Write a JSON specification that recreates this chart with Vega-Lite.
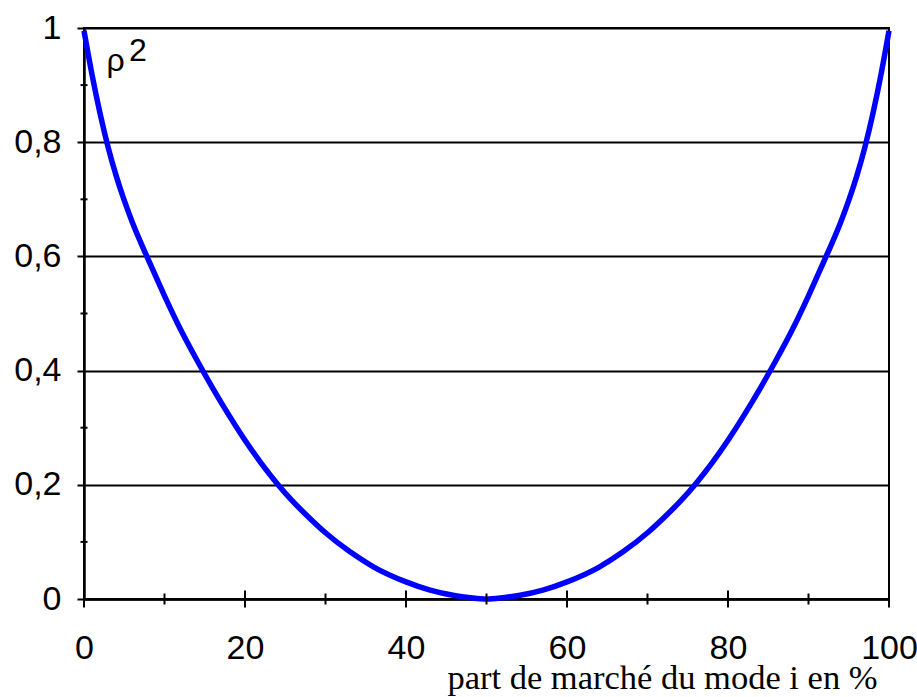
{
  "$schema": "https://vega.github.io/schema/vega-lite/v6.json",
  "width": 805,
  "height": 571,
  "autosize": "none",
  "padding": {"left": 84, "top": 28, "right": 28, "bottom": 98},
  "background": "white",
  "config": {
    "view": {"stroke": "black", "strokeWidth": 2},
    "axis": {"labelFlush": false, "labelOverlap": false, "labelColor": "black", "labelFont": "Liberation Sans", "labelFontSize": 34, "domainColor": "black", "domainWidth": 2.5}
  },
  "datasets": {
    "curve": [
      {"p": 0, "r": 0.995}, {"p": 1, "r": 0.918}, {"p": 2, "r": 0.850}, {"p": 3, "r": 0.791},
      {"p": 4, "r": 0.741}, {"p": 5, "r": 0.698}, {"p": 6, "r": 0.660}, {"p": 7, "r": 0.626},
      {"p": 8, "r": 0.594}, {"p": 10, "r": 0.531}, {"p": 12, "r": 0.472}, {"p": 14, "r": 0.419},
      {"p": 16, "r": 0.369}, {"p": 18, "r": 0.322}, {"p": 20, "r": 0.278}, {"p": 22, "r": 0.238},
      {"p": 24, "r": 0.202}, {"p": 26, "r": 0.170}, {"p": 28, "r": 0.142}, {"p": 30, "r": 0.116},
      {"p": 33, "r": 0.083}, {"p": 36, "r": 0.056}, {"p": 40, "r": 0.030}, {"p": 43, "r": 0.0155},
      {"p": 46, "r": 0.006}, {"p": 48, "r": 0.0022}, {"p": 50, "r": 0},
      {"p": 52, "r": 0.0022}, {"p": 54, "r": 0.006}, {"p": 57, "r": 0.0155}, {"p": 60, "r": 0.030},
      {"p": 64, "r": 0.056}, {"p": 67, "r": 0.083}, {"p": 70, "r": 0.116}, {"p": 72, "r": 0.142},
      {"p": 74, "r": 0.170}, {"p": 76, "r": 0.202}, {"p": 78, "r": 0.238}, {"p": 80, "r": 0.278},
      {"p": 82, "r": 0.322}, {"p": 84, "r": 0.369}, {"p": 86, "r": 0.419}, {"p": 88, "r": 0.472},
      {"p": 90, "r": 0.531}, {"p": 92, "r": 0.594}, {"p": 93, "r": 0.626}, {"p": 94, "r": 0.660},
      {"p": 95, "r": 0.698}, {"p": 96, "r": 0.741}, {"p": 97, "r": 0.791}, {"p": 98, "r": 0.850},
      {"p": 99, "r": 0.918}, {"p": 100, "r": 0.995}
    ],
    "yminor": [{"p": 0, "r": 0.1}, {"p": 0, "r": 0.3}, {"p": 0, "r": 0.5}, {"p": 0, "r": 0.7}, {"p": 0, "r": 0.9}],
    "xmajor": [{"p": 0, "r": 0}, {"p": 20, "r": 0}, {"p": 40, "r": 0}, {"p": 60, "r": 0}, {"p": 80, "r": 0}, {"p": 100, "r": 0}],
    "xminor": [{"p": 10, "r": 0}, {"p": 30, "r": 0}, {"p": 50, "r": 0}, {"p": 70, "r": 0}, {"p": 90, "r": 0}],
    "labels": [{"p": 2.8, "r": 0.925, "t": "ρ"}],
    "sup": [{"p": 5.6, "r": 0.942, "t": "2"}]
  },
  "encoding": {
    "x": {"field": "p", "type": "quantitative", "scale": {"domain": [0, 100], "nice": false, "zero": false},
      "axis": {"values": [0, 20, 40, 60, 80, 100], "ticks": false, "grid": false, "labelPadding": 32,
        "title": "part de marché du mode i en %", "titleFont": "Liberation Serif", "titleFontSize": 34.5, "titleFontWeight": "normal",
        "titleColor": "black", "titleAlign": "right", "titleAnchor": "end", "titleBaseline": "alphabetic", "titleX": 793, "titleY": 89}},
    "y": {"field": "r", "type": "quantitative", "scale": {"domain": [0, 1], "nice": false},
      "axis": {"values": [0, 0.2, 0.4, 0.6, 0.8, 1], "tickSize": 7, "tickWidth": 2, "tickColor": "black",
        "grid": true, "gridColor": "black", "gridWidth": 2, "gridOpacity": 1, "labelPadding": 16,
        "labelExpr": "replace(format(datum.value, '~g'), '.', ',')", "title": null}}
  },
  "layer": [
    {"data": {"name": "curve"}, "mark": {"type": "line", "color": "#0000FF", "strokeWidth": 5.5, "interpolate": "monotone", "clip": false}},
    {"data": {"name": "yminor"}, "mark": {"type": "tick", "orient": "horizontal", "size": 7, "thickness": 2, "color": "black", "opacity": 1}},
    {"data": {"name": "xmajor"}, "mark": {"type": "tick", "orient": "vertical", "size": 17, "thickness": 2, "color": "black", "opacity": 1}},
    {"data": {"name": "xminor"}, "mark": {"type": "tick", "orient": "vertical", "size": 11, "thickness": 2, "color": "black", "opacity": 1}},
    {"data": {"name": "labels"}, "mark": {"type": "text", "align": "left", "baseline": "alphabetic", "font": "Liberation Sans", "fontSize": 32, "color": "black"},
      "encoding": {"text": {"field": "t"}}},
    {"data": {"name": "sup"}, "mark": {"type": "text", "align": "left", "baseline": "alphabetic", "font": "Liberation Sans", "fontSize": 32, "color": "black"},
      "encoding": {"text": {"field": "t"}}}
  ]
}
